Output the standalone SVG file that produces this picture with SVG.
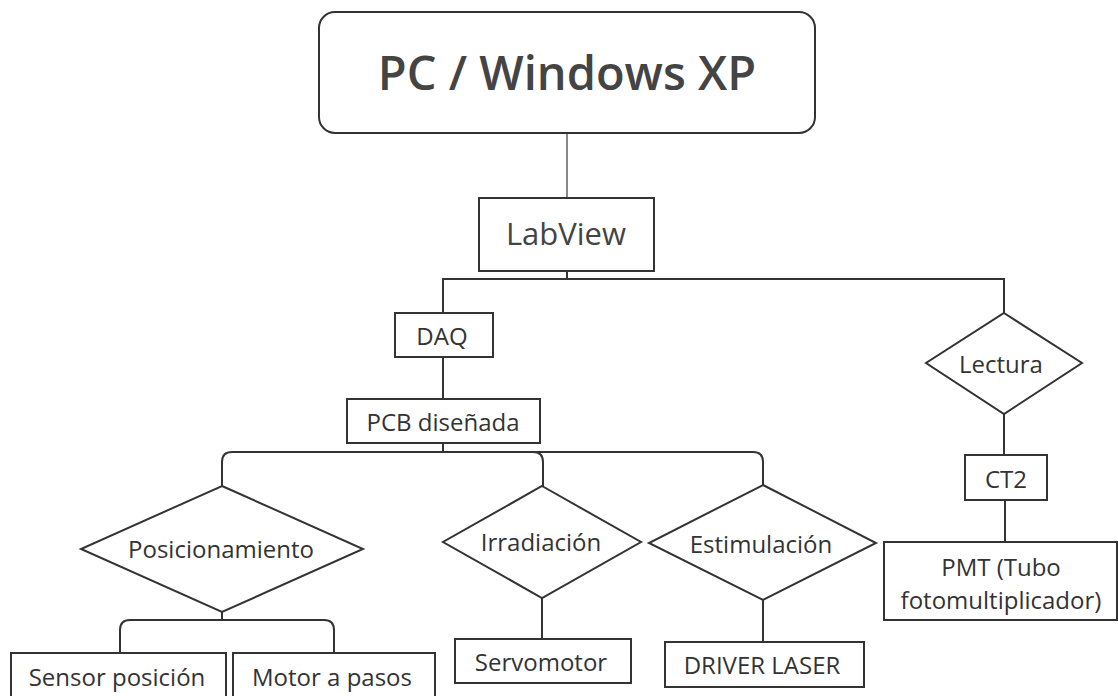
<svg xmlns="http://www.w3.org/2000/svg" width="1118" height="696" viewBox="0 0 1118 696">
<style>
.box{fill:#fff;stroke:#333;stroke-width:2}
.t{font-family:"Open Sans","Liberation Sans",sans-serif;font-size:24px;fill:#333;text-anchor:middle;dominant-baseline:central}
.c{fill:none;stroke:#333;stroke-width:2}
</style>
<rect width="1118" height="696" fill="#fff"/>
<g id="connectors">
<line x1="567" y1="133" x2="567" y2="198" stroke="#888" stroke-width="2"/>
<path class="c" d="M567 271V279M443 313V279H1004V314"/>
<path class="c" d="M443 357V399"/>
<path class="c" d="M443 443V452M222 486V462Q222 452 232 452H753Q763 452 763 462V486M543 486V462Q543 452 533 452"/>
<path class="c" d="M222 612V620M120 653V630Q120 620 130 620H324Q334 620 334 630V653"/>
<path class="c" d="M542 598V639"/>
<path class="c" d="M763 600V642"/>
<path class="c" d="M1004 414V455M1005 500V542"/>
</g>
<g id="pc"><rect class="box" x="319" y="12" width="496" height="121" rx="16"/><text class="t" x="567" y="72" style="font-size:47px;font-weight:600;fill:#444">PC / Windows XP</text></g>
<g id="labview"><rect class="box" x="479" y="198" width="175" height="73"/><text class="t" x="566" y="233" style="font-size:31px;fill:#444">LabView</text></g>
<g id="daq"><rect class="box" x="395" y="313" width="98" height="44"/><text class="t" x="442" y="335">DAQ</text></g>
<g id="pcb"><rect class="box" x="347" y="399" width="193" height="44"/><text class="t" x="443" y="421">PCB diseñada</text></g>
<g id="posicionamiento"><polygon class="box" points="222,486 363,549 222,612 81,549"/><text class="t" x="221" y="548">Posicionamiento</text></g>
<g id="irradiacion"><polygon class="box" points="542,486 641,542 542,598 443,542"/><text class="t" x="541" y="541">Irradiación</text></g>
<g id="estimulacion"><polygon class="box" points="763,485 876,543 763,600 649,543"/><text class="t" x="761" y="543">Estimulación</text></g>
<g id="lectura"><polygon class="box" points="1004,313 1082,363 1004,414 926,363"/><text class="t" x="1001" y="363">Lectura</text></g>
<g id="ct2"><rect class="box" x="965" y="455" width="82" height="45"/><text class="t" x="1006" y="478">CT2</text></g>
<g id="pmt"><rect class="box" x="884" y="542" width="233" height="78"/><text class="t" x="1001" y="566">PMT (Tubo</text><text class="t" x="1001" y="599">fotomultiplicador)</text></g>
<g id="sensor"><rect class="box" x="11" y="653" width="215" height="60"/><text class="t" x="117" y="676">Sensor posición</text></g>
<g id="motor"><rect class="box" x="233" y="653" width="202" height="60"/><text class="t" x="332" y="676">Motor a pasos</text></g>
<g id="servo"><rect class="box" x="455" y="639" width="176" height="44"/><text class="t" x="541" y="661">Servomotor</text></g>
<g id="driver"><rect class="box" x="665" y="642" width="199" height="45"/><text class="t" x="762" y="664">DRIVER LASER</text></g>
</svg>
